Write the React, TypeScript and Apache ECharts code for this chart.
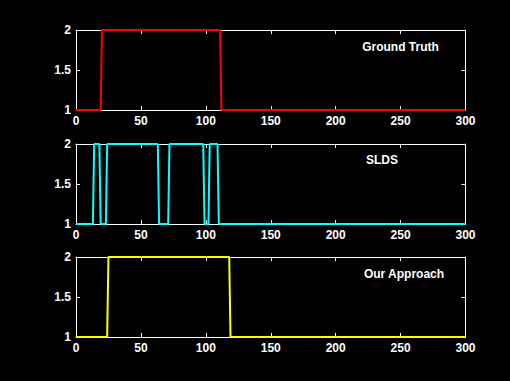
import React, { useEffect, useRef } from "react";
import * as echarts from "echarts";

const groundTruth: [number, number][] = [[0, 1], [19, 1], [20, 2], [111, 2], [112, 1], [300, 1]];
const slds: [number, number][] = [
  [0, 1], [13, 1], [14, 2], [18, 2], [19, 1], [23, 1], [24, 2], [63, 2], [64, 1],
  [71, 1], [72, 2], [98, 2], [99, 1], [102, 1], [103, 2], [109, 2], [110, 1], [300, 1],
];
const ourApproach: [number, number][] = [[0, 1], [24, 1], [25, 2], [118, 2], [119, 1], [300, 1]];
const panelTitles = ["Ground Truth", "SLDS", "Our Approach"];
const panelColors = ["#ff0000", "#00ffff", "#ffff00"];
const panelData = [groundTruth, slds, ourApproach];
const xTicks = { min: 0, max: 300, interval: 50 };
const yTicks = { min: 1, max: 2, interval: 0.5 };

const FONT = "'Liberation Sans', Arial, Helvetica, sans-serif";

export default function App() {
  const ref = useRef<HTMLDivElement>(null);
  useEffect(() => {
    if (!ref.current) return;
    const chart = echarts.init(ref.current, null, { renderer: "svg" });
    const tops = [30, 144, 257];
    const titlePos = [[400.5, 47], [382, 160], [404, 274]];
    const grids = tops.map((t) => ({ left: 76, right: 44.5, top: t, height: 80, containLabel: false }));
    const line = { show: true, onZero: false, lineStyle: { color: "#fff", width: 1 } };
    const tick = { show: true, inside: true, length: 4, lineStyle: { color: "#fff", width: 1 } };
    const label = { color: "#fff", fontWeight: "bold" as const, fontSize: 12, fontFamily: FONT };
    const xAxis: any[] = [];
    const yAxis: any[] = [];
    tops.forEach((_, i) => {
      xAxis.push({
        type: "value", gridIndex: i, position: "bottom", ...xTicks,
        axisLine: line, axisTick: tick, splitLine: { show: false },
        axisLabel: { ...label, margin: 5 },
      });
      xAxis.push({
        type: "value", gridIndex: i, position: "top", ...xTicks,
        axisLine: line, axisTick: tick, splitLine: { show: false },
        axisLabel: { show: false },
      });
      yAxis.push({
        type: "value", gridIndex: i, position: "left", ...yTicks,
        axisLine: line, axisTick: tick, splitLine: { show: false },
        axisLabel: { ...label, margin: 5 },
      });
      yAxis.push({
        type: "value", gridIndex: i, position: "right", ...yTicks,
        axisLine: line, axisTick: tick, splitLine: { show: false },
        axisLabel: { show: false },
      });
    });
    chart.setOption({
      animation: false,
      backgroundColor: "#000",
      grid: grids,
      xAxis,
      yAxis,
      series: panelData.map((d, i) => ({
        type: "line",
        xAxisIndex: i * 2,
        yAxisIndex: i * 2,
        data: d,
        showSymbol: false,
        symbol: "none",
        lineStyle: { color: panelColors[i], width: 2 },
        clip: false,
        z: 3,
      })),
      graphic: panelTitles.map((t, i) => ({
        type: "text",
        x: titlePos[i][0],
        y: titlePos[i][1],
        style: {
          text: t,
          fill: "#fff",
          font: `bold 12px ${FONT}`,
          textAlign: "center",
          textVerticalAlign: "middle",
        },
        z: 10,
      })),
    });
    return () => chart.dispose();
  }, []);
  return (
    <div
      ref={ref}
      style={{ position: "fixed", left: 0, top: 0, width: 510, height: 381, background: "#000" }}
    />
  );
}
